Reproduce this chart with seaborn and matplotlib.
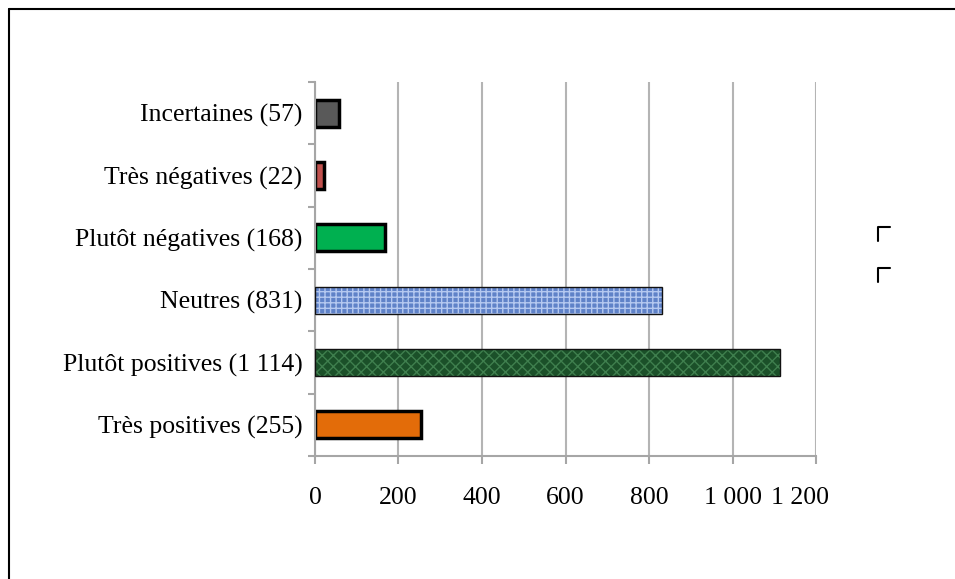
"""
Horizontal bar chart of opinion counts, recreated with seaborn.
"""
import matplotlib
matplotlib.use("Agg")
import matplotlib.pyplot as plt
import matplotlib.ticker as mticker
import matplotlib.transforms as mtransforms
from matplotlib.lines import Line2D
from matplotlib.patches import Rectangle
import seaborn as sns

# data
categories = ["Incertaines (57)", "Très négatives (22)", "Plutôt négatives (168)",
              "Neutres (831)", "Plutôt positives (1 114)", "Très positives (255)"]
values = [57, 22, 168, 831, 1114, 255]
colors = ["#595959", "#c0504d", "#00b050", "#5f82c8", "#1b5029", "#e36c09"]
xticks = [0, 200, 400, 600, 800, 1000, 1200]


def fmt_thousands(v, _pos):
    return f"{int(v):,}".replace(",", " ")


def main():
    sns.set_style("white")
    plt.rcParams["font.family"] = ["Liberation Serif", "DejaVu Serif"]

    fig = plt.figure(figsize=(9.55, 5.79), dpi=100)
    ax = fig.add_axes([0.3298, 0.2124, 0.5247, 0.6460])

    sns.barplot(x=values, y=categories, hue=categories, palette=colors,
                legend=False, orient="h", width=0.43, ax=ax, saturation=1)

    # style each bar; the two big ones get a texture-like hatch
    for i, patch in enumerate(ax.patches):
        if i in (3, 4):
            hatch_col = "#b4c8f0" if i == 3 else "#3f7f4e"
            patch.set_edgecolor(hatch_col)
            patch.set_hatch("+++" if i == 3 else "xxx")
            patch.set_linewidth(0)
            bb = patch.get_bbox()
            ax.add_patch(Rectangle((bb.x0, bb.y0), bb.width, bb.height,
                                   fill=False, edgecolor="#111111",
                                   linewidth=1.0, zorder=3))
        else:
            patch.set_edgecolor("black")
            patch.set_linewidth(2.5)

    ax.set_xlim(0, 1200)
    ax.set_ylim(5.5, -0.5)
    ax.set_xticks(xticks)
    ax.xaxis.set_major_formatter(mticker.FuncFormatter(fmt_thousands))
    ax.grid(axis="x", color="#b4b4b4", linewidth=1.5)
    ax.set_axisbelow(True)

    for side in ("top", "right"):
        ax.spines[side].set_visible(False)
    for side in ("left", "bottom"):
        ax.spines[side].set_color("#a6a6a6")
        ax.spines[side].set_linewidth(1.5)

    # category separators as minor ticks
    ax.set_yticks([i - 0.5 for i in range(len(categories) + 1)], minor=True)
    ax.tick_params(axis="y", which="major", length=0, pad=9, labelsize=18.5,
                   labelcolor="black")
    ax.tick_params(axis="y", which="minor", length=5, width=1.5,
                   color="#a6a6a6", direction="out", left=True)
    ax.tick_params(axis="x", which="major", length=6, width=1.5,
                   color="#a6a6a6", direction="out", bottom=True, pad=16,
                   labelsize=18.5, labelcolor="black")
    ax.set_xlabel("")
    ax.set_ylabel("")

    # last x label is pulled back a little, as in the original
    last = ax.get_xticklabels()[-1]
    last.set_transform(last.get_transform() +
                       mtransforms.ScaledTranslation(-16 / 100, 0, fig.dpi_scale_trans))

    # outer frame (top and left edges visible)
    fig.add_artist(Line2D([9 / 955, 1], [1 - 9 / 579, 1 - 9 / 579],
                          transform=fig.transFigure, color="black", lw=1.5))
    fig.add_artist(Line2D([9 / 955, 9 / 955], [0, 1 - 9 / 579],
                          transform=fig.transFigure, color="black", lw=1.5))

    # empty legend markers on the right
    for ytop in (227, 268):
        xs = [878 / 955, 878 / 955, 890 / 955]
        ys = [1 - (ytop + 14) / 579, 1 - ytop / 579, 1 - ytop / 579]
        fig.add_artist(Line2D(xs, ys, transform=fig.transFigure,
                              color="black", lw=1.5))

    fig.savefig("out.png", dpi=100)


if __name__ == "__main__":
    main()
